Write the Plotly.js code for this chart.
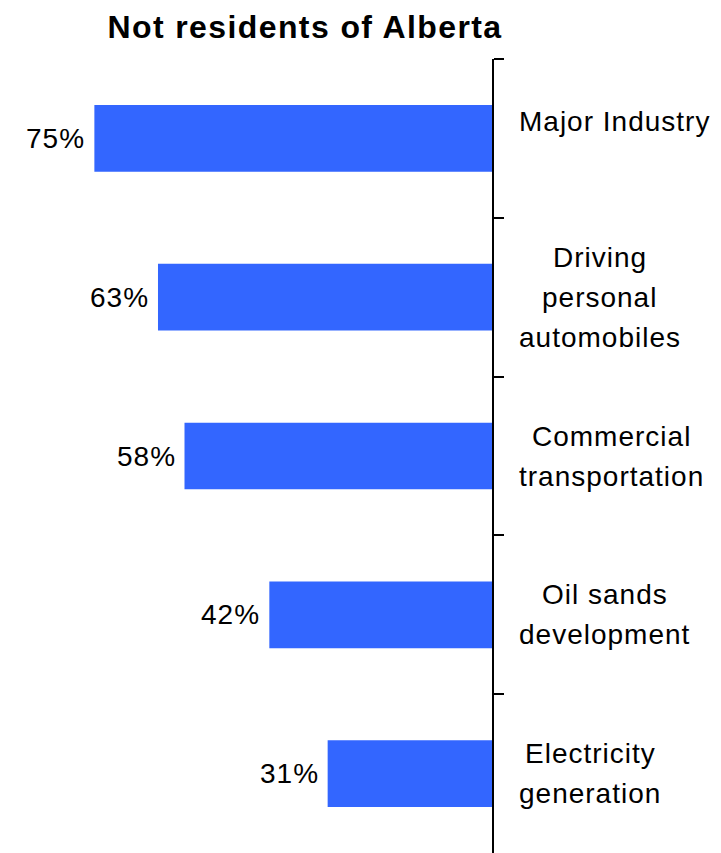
<!DOCTYPE html>
<html>
<head>
<meta charset="utf-8">
<script src="https://cdn.plot.ly/plotly-3.0.1.min.js"></script>
<style>
  html, body { margin: 0; padding: 0; background: #fff; }
  #chart { width: 721px; height: 853px; }
  .annotation-text { letter-spacing: 1px; }
  .gtitle { letter-spacing: 1.4px; }
</style>
</head>
<body>
<div id="chart"></div>
<script>
// ---- data ----
var categories = ["Major Industry", "Driving\npersonal\nautomobiles", "Commercial\ntransportation", "Oil sands\ndevelopment", "Electricity\ngeneration"];
var values = [75, 63, 58, 42, 31];
var valueLabels = ["75%", "63%", "58%", "42%", "31%"];
var chartTitle = "Not residents of Alberta";

// ---- styling constants ----
var FONT = '"Liberation Sans", Arial, Helvetica, sans-serif';
var LABEL_SIZE = 28;
var LETTER_SP = 1;
var LINE_GAP = 40;
var labelShift = [17, 0, 0, 0, 0];

var canvas = document.createElement('canvas');
var ctx = canvas.getContext('2d');
ctx.font = LABEL_SIZE + 'px "Liberation Sans"';
function textW(s) { return ctx.measureText(s).width + s.length * LETTER_SP; }

var annotations = [];
categories.forEach(function (cat, ci) {
  var lines = cat.split('\n');
  var maxW = Math.max.apply(null, lines.map(textW));
  var n = lines.length;
  lines.forEach(function (ln, i) {
    annotations.push({
      xref: 'paper', x: 1, yref: 'y', y: cat,
      text: ln, showarrow: false,
      xanchor: 'center', yanchor: 'middle',
      xshift: 27 + maxW / 2,
      yshift: labelShift[ci] + ((n - 1) / 2 - i) * LINE_GAP,
      font: { family: FONT, size: LABEL_SIZE, color: '#000' }
    });
  });
});
values.forEach(function (v, i) {
  annotations.push({
    xref: 'x', x: v, yref: 'y', y: categories[i],
    text: valueLabels[i], showarrow: false,
    xanchor: 'right', yanchor: 'middle', xshift: -7,
    font: { family: FONT, size: LABEL_SIZE, color: '#000' }
  });
});

var trace = {
  type: 'bar', orientation: 'h',
  x: values, y: categories,
  width: 0.42,
  marker: { color: '#3366ff' },
  hoverinfo: 'none'
};

var layout = {
  width: 721, height: 853,
  margin: { l: 0, r: 229, t: 59, b: 0 },
  paper_bgcolor: '#fff', plot_bgcolor: '#fff',
  showlegend: false,
  title: {
    text: '<b>' + chartTitle + '</b>',
    font: { family: FONT, size: 32, color: '#000' },
    xref: 'container', yref: 'container',
    x: 305 / 721, xanchor: 'center',
    y: 1 - 27 / 853, yanchor: 'middle'
  },
  xaxis: {
    range: [92.8, 0], visible: false, fixedrange: true
  },
  yaxis: {
    type: 'category',
    categoryorder: 'array', categoryarray: categories,
    range: [4.5, -0.5],
    side: 'right',
    showline: true, linecolor: '#000', linewidth: 2,
    ticks: 'outside', tickson: 'boundaries', ticklen: 10, tickwidth: 2, tickcolor: '#000',
    showticklabels: false, showgrid: false, zeroline: false, fixedrange: true
  },
  annotations: annotations
};

Plotly.newPlot('chart', [trace], layout, { displayModeBar: false, staticPlot: true });
</script>
</body>
</html>
